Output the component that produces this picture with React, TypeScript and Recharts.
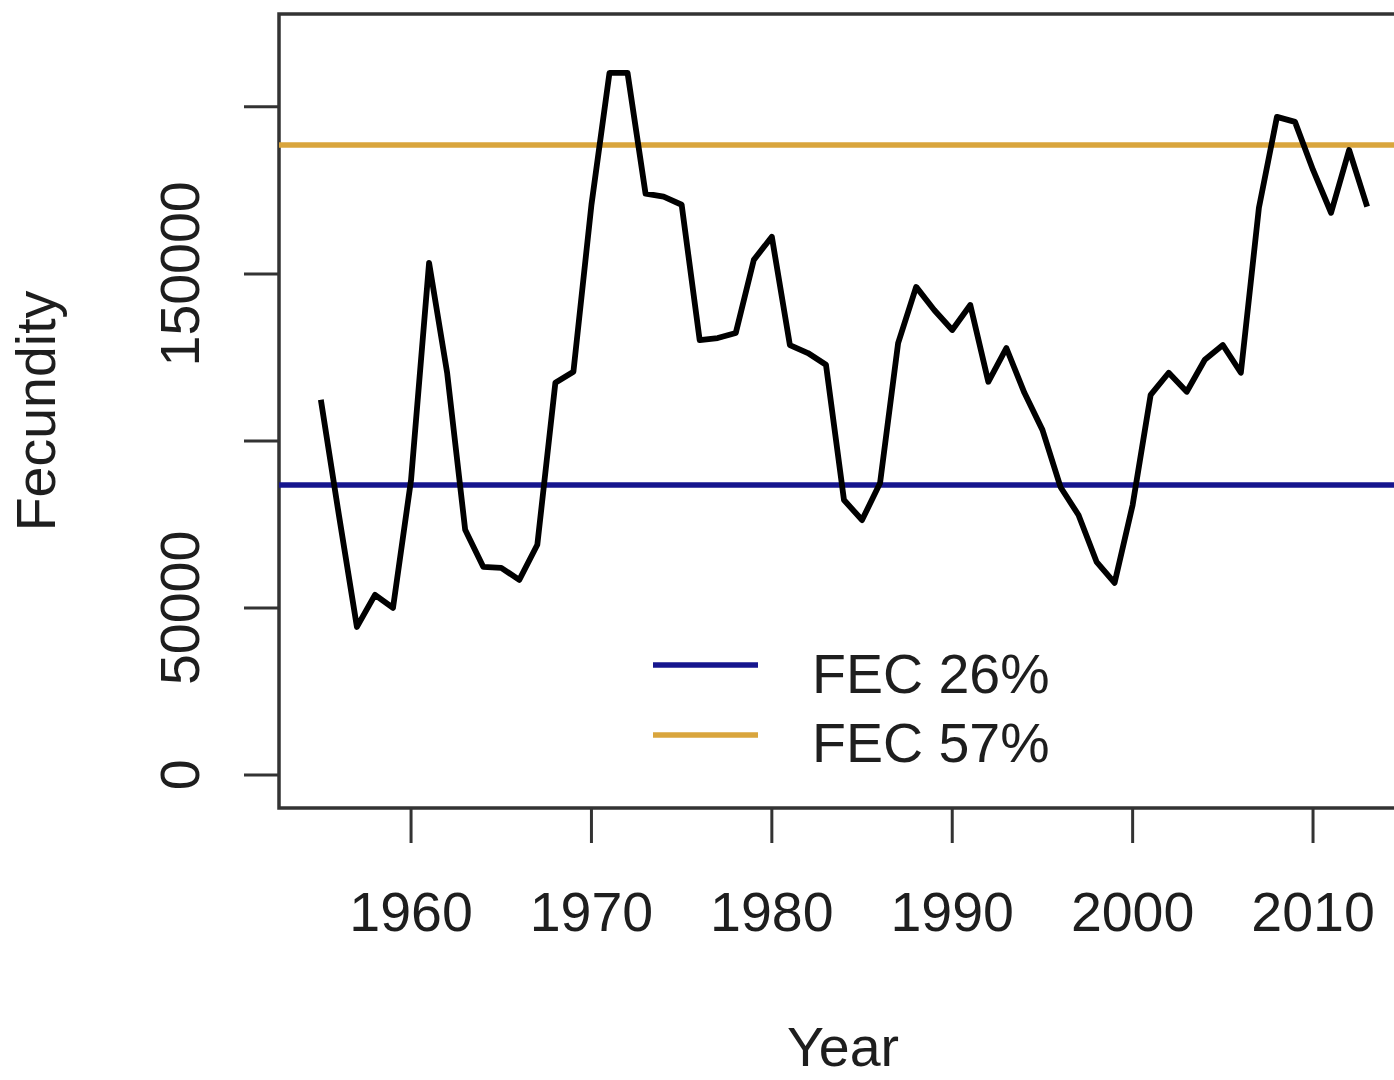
import React from 'react';
import { LineChart, Line, XAxis, YAxis, ReferenceLine, ReferenceArea, Legend } from 'recharts';

const years = [
  1955, 1956, 1957, 1958, 1959, 1960, 1961, 1962, 1963, 1964,
  1965, 1966, 1967, 1968, 1969, 1970, 1971, 1972, 1973, 1974,
  1975, 1976, 1977, 1978, 1979, 1980, 1981, 1982, 1983, 1984,
  1985, 1986, 1987, 1988, 1989, 1990, 1991, 1992, 1993, 1994,
  1995, 1996, 1997, 1998, 1999, 2000, 2001, 2002, 2003, 2004,
  2005, 2006, 2007, 2008, 2009, 2010, 2011, 2012, 2013,
];

const fecundity = [
  112300, 77800, 44300, 53900, 50000, 88300, 153300, 120400, 73400, 62300,
  62000, 58400, 68900, 117400, 120700, 170700, 210200, 210200, 174000, 173100,
  170700, 130200, 130800, 132300, 154200, 161100, 128700, 126300, 122800, 82300,
  76300, 87400, 129300, 146100, 139200, 133200, 140700, 117700, 127800, 114400,
  103300, 86200, 77800, 63800, 57500, 80800, 113800, 120400, 114700, 124300,
  128700, 120400, 169800, 197000, 195500, 181100, 168300, 187100, 170100,
];

const xTicks = [1960, 1970, 1980, 1990, 2000, 2010];
const xTickLabels = ['1960', '1970', '1980', '1990', '2000', '2010'];
const yTicks = [0, 50000, 100000, 150000, 200000];
const yTickLabels = ['0', '50000', '', '150000', ''];

const fec26 = 86800;
const fec57 = 188600;
const legendLabels = ['FEC 26%', 'FEC 57%'];
const legendColors = ['#16168e', '#d9a53c'];

const xDomain = [1952.68, 2015.32];
const yDomain = [-9900, 227800];

const data = years.map((year, i) => ({ year, fecundity: fecundity[i] }));

const FONT = '"Liberation Sans", Arial, Helvetica, sans-serif';
const FS = 55.5;
const TXT = '#1e1e1e';

const XTick = (props: any) => {
  const { x, y, payload } = props;
  const idx = xTicks.indexOf(payload.value);
  return (
    <text x={x} y={y + 88} textAnchor="middle" fontFamily={FONT} fontSize={FS} fill={TXT}>
      {idx >= 0 ? xTickLabels[idx] : ''}
    </text>
  );
};

const YTick = (props: any) => {
  const { x, y, payload } = props;
  const idx = yTicks.indexOf(payload.value);
  const tx = x - 45;
  return (
    <text x={tx} y={y} transform={`rotate(-90 ${tx} ${y})`} textAnchor="middle" fontFamily={FONT} fontSize={FS} fill={TXT}>
      {idx >= 0 ? yTickLabels[idx] : ''}
    </text>
  );
};

const XLabel = (props: any) => {
  const vb = props.viewBox || { x: 0, y: 0, width: 0 };
  return (
    <text x={843} y={vb.y + 258} textAnchor="middle" fontFamily={FONT} fontSize={FS} fill={TXT}>
      Year
    </text>
  );
};

const YLabel = (props: any) => {
  const vb = props.viewBox || { x: 0, y: 0, height: 0 };
  const tx = vb.x + 55;
  const ty = vb.y + vb.height / 2;
  return (
    <text x={tx} y={ty} transform={`rotate(-90 ${tx} ${ty})`} textAnchor="middle" fontFamily={FONT} fontSize={FS} fill={TXT}>
      Fecundity
    </text>
  );
};

const LegendContent = () => (
  <svg width={450} height={150} style={{ display: 'block' }}>
    {legendLabels.map((lab, i) => (
      <g key={lab}>
        <line x1={23} x2={128} y1={35 + i * 70} y2={35 + i * 70} stroke={legendColors[i]} strokeWidth={5.5} />
        <text x={182} y={63 + i * 69} fontFamily={FONT} fontSize={FS} fill={TXT}>
          {lab}
        </text>
      </g>
    ))}
  </svg>
);

export default function App() {
  return (
    <div style={{ position: 'absolute', left: 0, top: 0, width: 1394, height: 1080, overflow: 'hidden', background: '#fff' }}>
      <LineChart width={1430} height={1080} data={data} margin={{ top: 14, right: 21, bottom: 0, left: 0 }}>
        <XAxis
          dataKey="year"
          type="number"
          domain={xDomain}
          allowDataOverflow
          ticks={xTicks}
          interval={0}
          height={272}
          tickSize={35}
          tickMargin={0}
          axisLine={false}
          tickLine={{ stroke: '#333', strokeWidth: 3 }}
          tick={<XTick />}
          label={<XLabel />}
        />
        <YAxis
          type="number"
          domain={yDomain}
          allowDataOverflow
          ticks={yTicks}
          interval={0}
          width={279}
          tickSize={35}
          tickMargin={0}
          axisLine={false}
          tickLine={{ stroke: '#333', strokeWidth: 3 }}
          tick={<YTick />}
          label={<YLabel />}
        />
        <ReferenceLine y={fec26} stroke={legendColors[0]} strokeWidth={5.5} />
        <ReferenceLine y={fec57} stroke={legendColors[1]} strokeWidth={5.5} />
        <Line
          dataKey="fecundity"
          type="linear"
          stroke="#000"
          strokeWidth={5.8}
          strokeLinejoin="round"
          dot={false}
          activeDot={false}
          isAnimationActive={false}
        />
        <ReferenceArea
          x1={xDomain[0]}
          x2={xDomain[1]}
          y1={yDomain[0]}
          y2={yDomain[1]}
          fill="none"
          fillOpacity={0}
          stroke="#333"
          strokeWidth={3.5}
        />
        <Legend
          layout="horizontal"
          verticalAlign="middle"
          align="center"
          content={<LegendContent />}
          wrapperStyle={{ left: 630, top: 630, width: 450, height: 150 }}
        />
      </LineChart>
    </div>
  );
}
